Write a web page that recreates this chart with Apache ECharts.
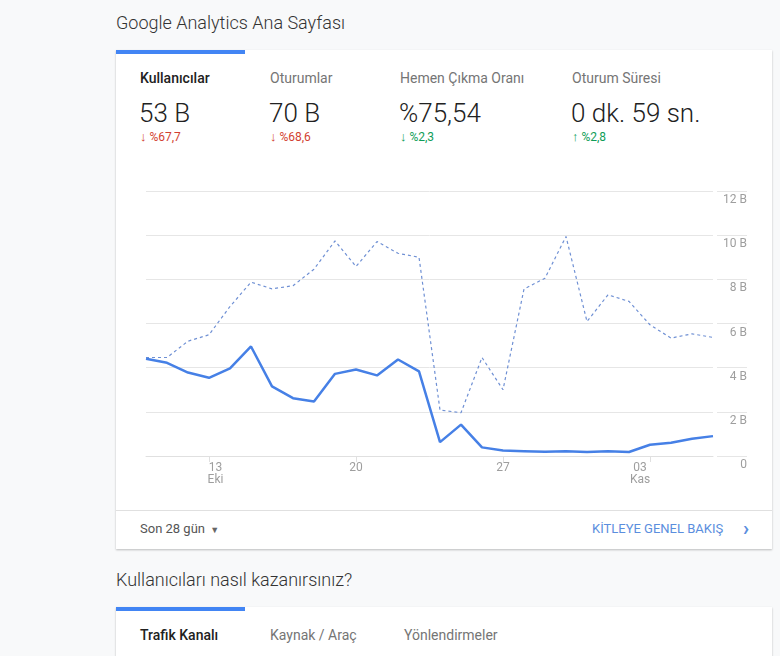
<!DOCTYPE html>
<html>
<head>
<meta charset="utf-8">
<script src="https://cdn.jsdelivr.net/npm/echarts@6/dist/echarts.min.js"></script>
<style>
    body{
        margin: 0;
        background: #f8f9fa;
        font-family: Roboto, "Noto Sans", sans-serif;
        width: 780px;
        height: 656px;
        overflow: hidden;
        position: relative;
    }
    .abs{ position: absolute; white-space: nowrap; }
    .h-title{
        font-size: 18px;
        font-weight: 300;
        color: #333;
    }
    .card{
        position: absolute;
        left: 116px;
        width: 656px;
        background: #fff;
        box-shadow: 0 1px 2px rgba(0,0,0,.25);
    }
    .card .bar{
        position: absolute;
        left: 0; top: 0;
        width: 129px; height: 4px;
        background: #4285f4;
    }
    .tab-name{ font-size: 14px; color: #757575; }
    .tab-name.on{ color: #212121; font-weight: 500; }
    .tab-val{ font-size: 26px; font-weight: 300; color: #212121; }
    .delta{ font-size: 12px; }
    .delta b{ font-weight: bold; font-size: 13px; }
    .down{ color: #d23f31; }
    .up{ color: #0f9d58; }
    .foot-line{
        position: absolute;
        left: 0; top: 460px;
        width: 656px; height: 1px;
        background: #e0e0e0;
    }
</style>
</head>
<body>
<div class="abs h-title" style="left:116px;top:12px;">Google Analytics Ana Sayfası</div>

<!--ana kart-->
<div class="card" style="top:50px;height:499px;">
    <div class="bar"></div>
    <div class="abs tab-name on" style="left:24px;top:20px;">Kullanıcılar</div>
    <div class="abs tab-name" style="left:154px;top:20px;">Oturumlar</div>
    <div class="abs tab-name" style="left:284px;top:20px;">Hemen Çıkma Oranı</div>
    <div class="abs tab-name" style="left:456px;top:20px;">Oturum Süresi</div>

    <div class="abs tab-val" style="left:23px;top:48px;">53 B</div>
    <div class="abs tab-val" style="left:153px;top:48px;">70 B</div>
    <div class="abs tab-val" style="left:283px;top:48px;">%75,54</div>
    <div class="abs tab-val" style="left:455px;top:48px;">0 dk. 59 sn.</div>

    <div class="abs delta down" style="left:24px;top:79px;"><b>↓</b> %67,7</div>
    <div class="abs delta down" style="left:154px;top:79px;"><b>↓</b> %68,6</div>
    <div class="abs delta up" style="left:284px;top:79px;"><b>↓</b> %2,3</div>
    <div class="abs delta up" style="left:456px;top:79px;"><b>↑</b> %2,8</div>

    <div class="foot-line"></div>
    <div class="abs" style="left:24px;top:471px;font-size:13px;color:#555;">Son 28 gün <span style="font-size:9px;color:#666;margin-left:2px;">&#9660;</span></div>
    <div class="abs" style="left:476px;top:471px;font-size:13px;color:#5b8ede;">KİTLEYE GENEL BAKIŞ</div>
    <div class="abs" style="left:627px;top:466px;font-size:20px;font-weight:bold;color:#5b8ede;">&#8250;</div>
</div>

<!--grafik-->
<div id="chart" class="abs" style="left:116px;top:160px;width:656px;height:350px;"></div>

<div class="abs h-title" style="left:116px;top:569px;">Kullanıcıları nasıl kazanırsınız?</div>
<div class="card" style="top:607px;height:80px;">
    <div class="bar"></div>
    <div class="abs tab-name on" style="left:24px;top:20px;">Trafik Kanalı</div>
    <div class="abs tab-name" style="left:154px;top:20px;">Kaynak / Araç</div>
    <div class="abs tab-name" style="left:288px;top:20px;">Yönlendirmeler</div>
</div>

<script>
    // 10 Eki - 06 Kas, son 28 gün
    var days = ['10','11','12','13','14','15','16','17','18','19','20','21','22','23',
                '24','25','26','27','28','29','30','31','01','02','03','04','05','06'];
    // etiketli günler ve ay adları
    var tickDays = ['13', '20', '27', '03'];
    var tickMonths = ['Eki', '', '', 'Kas'];
    var tickAlign = ['l', 'c', 'c', 'r'];
    // bin (B) cinsinden
    var users = [4.40, 4.22, 3.78, 3.54, 3.97, 4.96, 3.15, 2.62, 2.47, 3.72, 3.92, 3.65, 4.37, 3.83,
                 0.63, 1.42, 0.39, 0.25, 0.22, 0.19, 0.22, 0.18, 0.21, 0.18, 0.51, 0.60, 0.78, 0.90];
    var sessions = [4.46, 4.46, 5.20, 5.49, 6.77, 7.87, 7.57, 7.71, 8.46, 9.74, 8.58, 9.71, 9.18, 9.00,
                    2.08, 1.96, 4.46, 3.00, 7.56, 8.05, 9.94, 6.09, 7.30, 7.00, 5.94, 5.34, 5.53, 5.37];
    var yTicks = [0, 2, 4, 6, 8, 10, 12];

    function isTick(i, v) {
        return tickDays.indexOf(days[i]) >= 0 && (i > 2);
    }

    var option = {
        animation: false,
        grid: { left: 30, right: 59, top: 31, bottom: 54 },
        xAxis: {
            type: 'category',
            data: days,
            boundaryGap: false,
            axisLine: { lineStyle: { color: '#e0e0e0' } },
            axisTick: {
                interval: isTick,
                length: 6,
                lineStyle: { color: '#e0e0e0' }
            },
            axisLabel: {
                interval: isTick,
                margin: 6,
                color: '#9e9e9e',
                fontSize: 12,
                lineHeight: 12,
                fontFamily: 'Roboto',
                formatter: function (v) {
                    var k = tickDays.indexOf(v);
                    var a = tickAlign[k];
                    var s = '{' + a + '|' + v + '}';
                    if (tickMonths[k]) s += '\n{' + a + '|' + tickMonths[k] + '}';
                    return s;
                },
                rich: {
                    l: { padding: [0, 0, 0, 13], color: '#9e9e9e', fontSize: 12, lineHeight: 12 },
                    c: { color: '#9e9e9e', fontSize: 12, lineHeight: 12 },
                    r: { padding: [0, 20, 0, 0], color: '#9e9e9e', fontSize: 12, lineHeight: 12 }
                }
            },
            splitLine: { show: false }
        },
        yAxis: {
            type: 'value',
            position: 'right',
            offset: 4,
            min: yTicks[0],
            max: yTicks[yTicks.length - 1],
            interval: 2,
            axisLine: { show: false },
            axisTick: { show: true, length: 30, lineStyle: { color: '#e6e6e6' } },
            axisLabel: {
                margin: 30,
                align: 'right',
                verticalAlign: 'top',
                padding: [3, 0, 0, 0],
                color: '#9e9e9e',
                fontSize: 12,
                fontFamily: 'Roboto',
                formatter: function (v) { return v === 0 ? '0' : v + ' B'; }
            },
            splitLine: { lineStyle: { color: '#e6e6e6' } }
        },
        series: [{
            name: 'Oturumlar',
            type: 'line',
            data: sessions,
            symbol: 'none',
            lineStyle: { color: '#6f90d4', width: 1.2, type: [3, 3] },
            z: 2
        }, {
            name: 'Kullanıcılar',
            type: 'line',
            data: users,
            symbol: 'none',
            lineStyle: { color: '#4680e6', width: 2.5 },
            z: 3
        }]
    };

    echarts.init(document.getElementById('chart')).setOption(option);
</script>
</body>
</html>
